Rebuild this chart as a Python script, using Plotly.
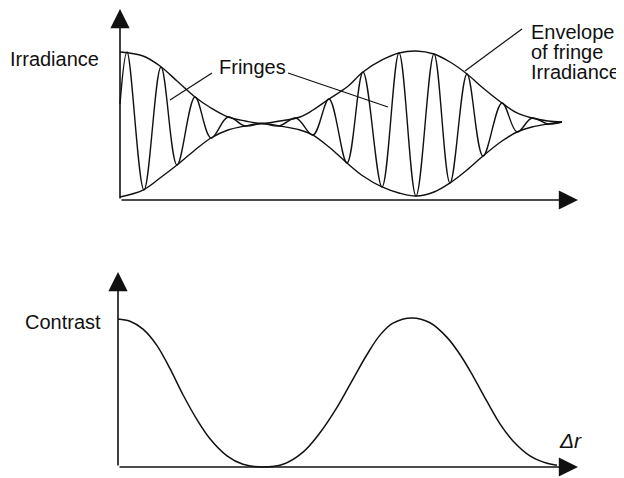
import plotly.graph_objects as go

# ---------------- data ----------------
# Upper panel: envelope of fringe irradiance (arbitrary units vs path difference)
env_dr = [0.02, 0.25, 0.42, 0.59, 0.77, 0.93, 1.10, 1.27, 1.44, 1.62, 1.82, 1.95, 2.11,
          2.29, 2.45, 2.64, 2.81, 2.98, 3.16, 3.32, 3.49, 3.65, 3.84, 3.99, 4.14, 4.30, 4.44]
env_upper = [2.00, 1.946, 1.811, 1.608, 1.392, 1.243, 1.122, 1.068, 1.034, 1.068, 1.122, 1.216, 1.365,
             1.527, 1.730, 1.892, 1.986, 2.014, 1.973, 1.865, 1.703, 1.514, 1.311, 1.176, 1.108, 1.068, 1.054]
env_lower = [0.041, 0.135, 0.297, 0.473, 0.676, 0.838, 0.946, 1.000, 1.034, 1.000, 0.946, 0.878, 0.716,
             0.500, 0.324, 0.176, 0.095, 0.054, 0.108, 0.230, 0.405, 0.595, 0.797, 0.919, 0.986, 1.027, 1.054]

# Fringe irradiance: successive maxima and minima
fringe_dr = [0.02, 0.09, 0.26, 0.43, 0.59, 0.77, 0.93, 1.10, 1.27, 1.44, 1.61, 1.78, 1.95, 2.11,
             2.29, 2.45, 2.64, 2.81, 2.98, 3.16, 3.32, 3.49, 3.65, 3.84, 3.99, 4.14, 4.30, 4.44]
fringe_irr = [1.297, 2.000, 0.135, 1.797, 0.473, 1.392, 0.838, 1.122, 1.000, 1.034, 1.000, 1.108, 0.878, 1.365,
              0.500, 1.730, 0.176, 1.986, 0.054, 1.973, 0.230, 1.703, 0.595, 1.311, 0.919, 1.108, 1.027, 1.054]

# Lower panel: fringe contrast vs path difference
contrast_dr = [0.00, 0.12, 0.25, 0.39, 0.52, 0.65, 0.79, 0.92, 1.09, 1.25, 1.45, 1.65, 1.85, 2.02, 2.19,
               2.35, 2.49, 2.62, 2.75, 2.94, 3.12, 3.29, 3.42, 3.55, 3.69, 3.82, 3.95, 4.12, 4.29, 4.39]
contrast = [0.993, 0.978, 0.925, 0.815, 0.660, 0.485, 0.318, 0.190, 0.075, 0.018, 0.000, 0.018, 0.100, 0.230, 0.400,
            0.590, 0.755, 0.885, 0.965, 1.000, 0.968, 0.870, 0.755, 0.610, 0.440, 0.290, 0.175, 0.075, 0.025, 0.012]

label_top_y = "Irradiance"
label_bottom_y = "Contrast"
label_fringes = "Fringes"
label_envelope = ["Envelope", "of fringe", "Irradiance"]
label_x = "<i>Δr</i>"

# ---------------- figure ----------------
INK = "#111111"
FONT = "Liberation Sans, Arial, Helvetica, sans-serif"

fig = go.Figure()

for ys in (env_upper, env_lower):
    fig.add_trace(go.Scatter(x=env_dr, y=ys, mode="lines", xaxis="x", yaxis="y",
                             line=dict(color=INK, width=1.4, shape="spline", smoothing=1.0),
                             hoverinfo="skip"))
fig.add_trace(go.Scatter(x=fringe_dr, y=fringe_irr, mode="lines", xaxis="x", yaxis="y",
                         line=dict(color=INK, width=1.4, shape="spline", smoothing=1.0),
                         hoverinfo="skip"))
fig.add_trace(go.Scatter(x=contrast_dr, y=contrast, mode="lines", xaxis="x2", yaxis="y2",
                         line=dict(color=INK, width=1.5, shape="spline", smoothing=1.0),
                         hoverinfo="skip"))

XR = [-1.10, 5.06]
fig.update_layout(
    width=616, height=470,
    margin=dict(l=0, r=0, t=0, b=0),
    paper_bgcolor="white", plot_bgcolor="white",
    showlegend=False,
    font=dict(family=FONT, size=20, color=INK),
    xaxis=dict(domain=[0, 1], range=XR, visible=False, anchor="y"),
    yaxis=dict(domain=[0.5085, 1], range=[-0.527, 2.5946], visible=False, anchor="x"),
    xaxis2=dict(domain=[0, 1], range=XR, visible=False, anchor="y2"),
    yaxis2=dict(domain=[0, 0.5085], range=[-0.0738, 1.5302], visible=False, anchor="x2"),
)

def axis_arrow(x0, y0, x1, y1, xr, yr):
    fig.add_annotation(x=x1, y=y1, ax=x0, ay=y0, xref=xr, yref=yr, axref=xr, ayref=yr,
                       text="", showarrow=True, arrowhead=2, arrowsize=2.4, arrowwidth=1.6,
                       arrowcolor=INK, standoff=0)

# axes with arrows
axis_arrow(0.02, 0.0, 0.02, 2.581, "x", "y")
axis_arrow(0.02, 0.0, 4.60, 0.0, "x", "y")
axis_arrow(0.0, 0.0, 0.0, 1.309, "x2", "y2")
axis_arrow(0.0, 0.0, 4.60, 0.0, "x2", "y2")

# leader lines
for (x0, y0, x1, y1) in [(0.94, 1.716, 0.52, 1.351), (1.70, 1.716, 2.70, 1.257), (4.04, 2.311, 3.47, 1.743)]:
    fig.add_shape(type="line", x0=x0, y0=y0, x1=x1, y1=y1, xref="x", yref="y",
                  line=dict(color=INK, width=1.2))

def label(text, x, y, xr, yr, xanchor="center", size=20):
    fig.add_annotation(x=x, y=y, xref=xr, yref=yr, text=text, showarrow=False,
                       xanchor=xanchor, yanchor="middle", font=dict(size=size, color=INK, family=FONT),
                       borderpad=0)

label(label_top_y, -0.18, 1.905, "x", "y", xanchor="right")
label(label_fringes, 1.345, 1.797, "x", "y")
for i, t in enumerate(label_envelope):
    label(t, 4.12, (200 - (32 + 20 * i)) / 74, "x", "y", xanchor="left")
label(label_bottom_y, -0.16, 0.973, "x2", "y2", xanchor="right")
label(label_x, 4.52, 0.181, "x2", "y2", size=21)

fig.write_html("out.html")
